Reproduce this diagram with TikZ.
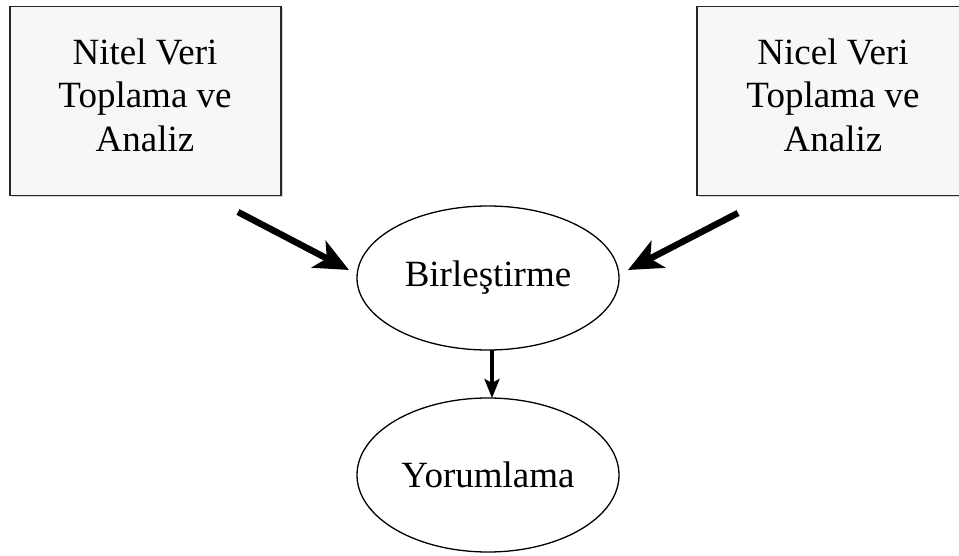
\documentclass[tikz,border=0pt]{standalone}
\usepackage{fontspec}
\setmainfont{Liberation Serif}
\usetikzlibrary{arrows.meta,shadows,shapes.geometric}
\begin{document}
\begin{tikzpicture}[x=1pt,y=-1pt,
  boxnode/.style={draw=black!85,line width=1.6pt,fill=black!3,minimum width=271pt,minimum height=189pt,inner sep=0pt,
    drop shadow={shadow xshift=1.5pt,shadow yshift=-1.5pt,opacity=0.35}},
  boxtext/.style={align=center,inner sep=0pt,font=\fontsize{37}{43.5}\selectfont},
  ellnode/.style={draw,line width=1.3pt,ellipse,inner sep=0pt,font=\fontsize{37}{44}\selectfont},
  bigarrow/.style={line width=6.5pt,-{Stealth[length=34pt,width=30pt,inset=9pt]}},
  smallarrow/.style={line width=4pt,-{Stealth[length=19pt,width=15pt,inset=4pt]}}]
\useasboundingbox (0,0) rectangle (959,556);
\clip (0,0) rectangle (959,556);
\node[boxnode] (nitel) at (145.5,101) {};
\node[boxtext] (niteltext) at (145,95) {Nitel Veri\\Toplama ve\\Analiz};
\node[boxnode] (nicel) at (832.5,101) {};
\node[boxtext] (niceltext) at (833,95) {Nicel Veri\\Toplama ve\\Analiz};
\node[ellnode,minimum width=262pt,minimum height=144pt] (bir) at (488,278) {Birleştirme};
\node[ellnode,minimum width=262pt,minimum height=154pt] (yor) at (488,475) {Yorumlama};
\coordinate (la) at (238,212);
\coordinate (ra) at (738,213);
\coordinate (lt) at (349,270);
\coordinate (rt) at (628,270);
\coordinate (ds) at (492,350);
\coordinate (de) at (492,398);
\draw[bigarrow] (la) -- (lt);
\draw[bigarrow] (ra) -- (rt);
\draw[smallarrow] (ds) -- (de);
\end{tikzpicture}
\end{document}
